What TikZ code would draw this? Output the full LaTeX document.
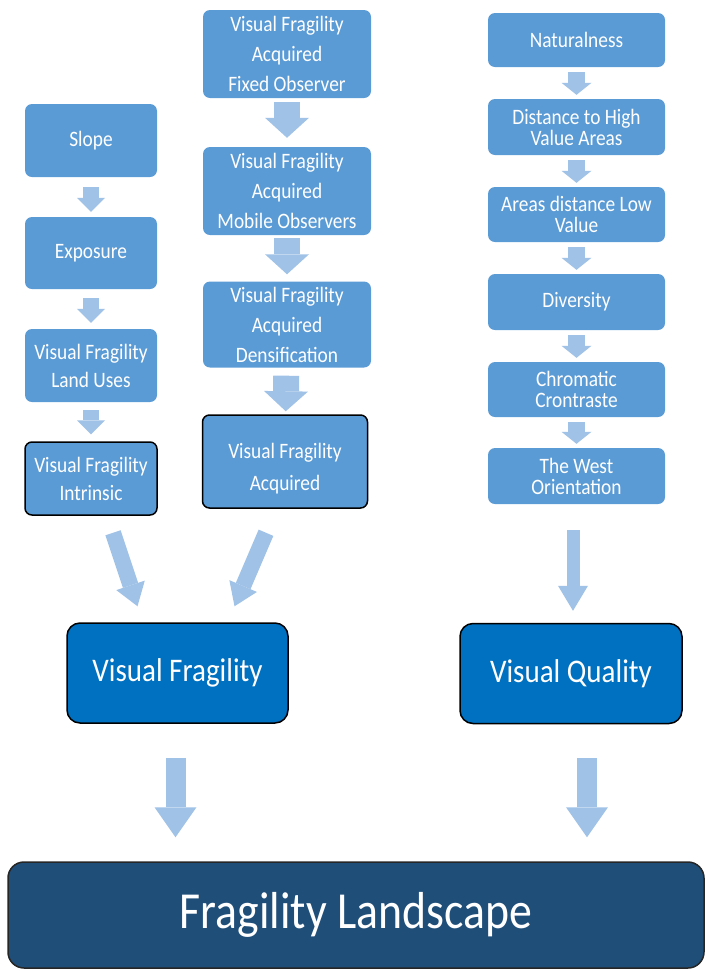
\documentclass[tikz,border=0pt]{standalone}
\usepackage{fontspec}
\setmainfont{Carlito}[FakeStretch=0.88]
\usetikzlibrary{arrows.meta, calc, positioning}
\definecolor{Boxblue}{RGB}{91,155,213}
\definecolor{Arrowblue}{RGB}{160,194,230}
\definecolor{Keyblue}{RGB}{0,112,192}
\definecolor{Landblue}{RGB}{31,78,121}

\begin{document}
\begin{tikzpicture}[x=1pt, y=-1pt,
  box/.style={
    rectangle, rounded corners=7pt,
    fill=Boxblue, text=white,
    align=center, inner sep=0pt
  },
  colL/.style={box, minimum width=132pt, font=\fontsize{22}{28}\selectfont},
  colM/.style={box, minimum width=168pt, font=\fontsize{22}{30}\selectfont},
  colR/.style={box, minimum width=177pt, font=\fontsize{22}{21}\selectfont},
  edged/.style={draw=black, line width=1.5pt},
  result/.style={
    rectangle, rounded corners=13pt,
    draw=black, line width=1.5pt, fill=Keyblue, text=white,
    minimum width=221pt, minimum height=100pt,
    font=\fontsize{33}{40}\selectfont
  },
  final/.style={
    rectangle, rounded corners=16pt,
    draw=black!85, line width=1.5pt, fill=Landblue, text=white,
    minimum width=696pt, minimum height=106pt,
    font=\fontsize{52}{60}\selectfont
  },
  smallarr/.style={draw=Arrowblue, line width=16pt,
    -{Triangle[width=28pt, length=14pt, line width=0pt]}},
  midarr/.style={draw=Arrowblue, line width=26pt,
    -{Triangle[width=44pt, length=20pt, line width=0pt]}},
  rightarr/.style={draw=Arrowblue, line width=17pt,
    -{Triangle[width=30pt, length=12pt, line width=0pt]}},
  slantarr/.style={draw=Arrowblue, line width=16pt,
    -{Triangle[width=30pt, length=22pt, line width=0pt]}},
  qualarr/.style={draw=Arrowblue, line width=13pt,
    -{Triangle[width=30pt, length=25pt, line width=0pt]}},
  longarr/.style={draw=Arrowblue, line width=20pt,
    -{Triangle[width=42pt, length=30pt, line width=0pt]}}
]
\useasboundingbox (0,0) rectangle (706,970);

%% --- intrinsic fragility chain ---
\node[colL, minimum height=73pt] (slope) at (91,140.5) {Slope};
\node[colL, minimum height=72pt] (expo)  at (91,253)   {Exposure};
\node[colL, minimum height=73pt] (vfland) at (91,365.5) {Visual Fragility\\Land Uses};
\node[colL, edged, minimum height=73pt] (vfintr) at (91,478.5) {Visual Fragility\\Intrinsic};

\draw[smallarr, shorten <=10pt, shorten >=5pt] (slope) -- (expo);
\draw[smallarr, shorten <=9pt, shorten >=6pt] (expo) -- (vfland);
\draw[smallarr, shorten <=8pt, shorten >=7pt] (vfland) -- (vfintr);

%% --- acquired fragility chain ---
\node[colM, minimum height=88pt] (vffixed) at (287,54)
  {Visual Fragility\\Acquired\\Fixed Observer};
\node[colM, minimum height=88pt] (vfmobile) at (287,191)
  {Visual Fragility\\Acquired\\Mobile Observers};
\node[colM, minimum height=86pt] (vfdense) at (287,324.5)
  {Visual Fragility\\Acquired\\Densification};
\node[colM, edged, minimum height=93pt, minimum width=165pt] (vfacq) at (285,461.5)
  {\rule{0pt}{30pt}Visual Fragility\\[2pt]Acquired};

\draw[midarr, shorten <=4pt, shorten >=9pt] (vffixed) -- (vfmobile);
\draw[midarr, shorten <=3pt, shorten >=7pt] (vfmobile) -- (vfdense);
\draw[midarr, shorten <=8pt, shorten >=3pt] (vfdense) -- (vfacq);

%% --- visual quality chain ---
\node[colR, minimum height=54pt] (natural) at (576.5,40)    {Naturalness};
\node[colR, minimum height=56pt] (disthigh) at (576.5,127)  {Distance to High\\Value Areas};
\node[colR, minimum height=55pt] (distlow) at (576.5,214.5) {Areas distance Low\\Value};
\node[colR, minimum height=56pt] (divers) at (576.5,302)    {Diversity};
\node[colR, minimum height=55pt] (chroma) at (576.5,389.5)  {Chromatic\\Crontraste};
\node[colR, minimum height=56pt] (west) at (576.5,476)      {The West\\Orientation};

\draw[rightarr, shorten <=5pt, shorten >=4pt] (natural) -- (disthigh);
\draw[rightarr, shorten <=5pt, shorten >=4pt] (disthigh) -- (distlow);
\draw[rightarr, shorten <=5pt, shorten >=4pt] (distlow) -- (divers);
\draw[rightarr, shorten <=5pt, shorten >=4pt] (divers) -- (chroma);
\draw[rightarr, shorten <=5pt, shorten >=4pt] (chroma) -- (west);

%% --- results ---
\node[result] (vfrag) at (177.5,673) {Visual Fragility};
\node[result, minimum width=222pt] (vqual) at (571,673.5) {Visual Quality};
\node[final] (land) at (356,915) {Fragility Landscape};

\draw[slantarr] ([xshift=22pt, yshift=-17pt]vfintr.south)
  -- ([xshift=-40pt, yshift=16pt]vfrag.north);
\draw[slantarr] ([xshift=-19pt, yshift=-24pt]vfacq.south)
  -- ([xshift=57pt, yshift=16pt]vfrag.north);
\draw[qualarr] ([xshift=-3.5pt, yshift=-26pt]west.south)
  -- ([xshift=2pt, yshift=12pt]vqual.north);

\coordinate (vfout) at ([xshift=-2pt]vfrag.south);
\coordinate (vqout) at ([xshift=16pt]vqual.south);
\draw[longarr, shorten <=34pt, shorten >=24pt] (vfout) -- (vfout |- land.north);
\draw[longarr, shorten <=34pt, shorten >=24pt] (vqout) -- (vqout |- land.north);

\end{tikzpicture}
\end{document}
